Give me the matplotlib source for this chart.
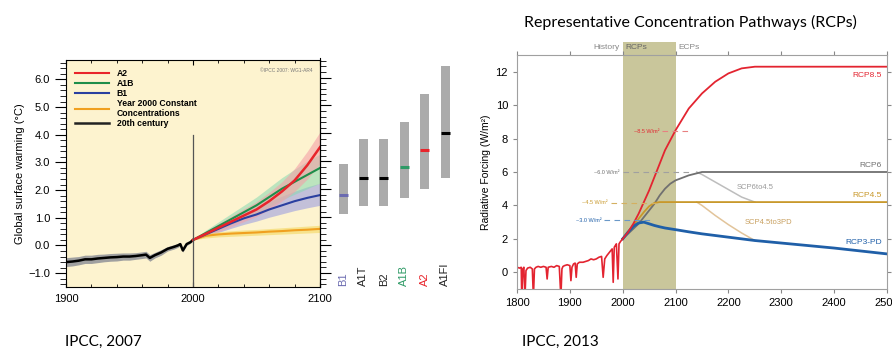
import numpy as np
import matplotlib
matplotlib.use('Agg')
import matplotlib.pyplot as plt
from matplotlib.patches import Rectangle
from matplotlib.lines import Line2D

# ---------------- data: IPCC 2007 (AR4) panel ----------------
hist_years = [1900, 1905, 1910, 1915, 1920, 1925, 1930, 1935, 1940, 1945, 1950, 1955,
              1960, 1963, 1966, 1970, 1975, 1980, 1985, 1988, 1990, 1992, 1995, 1998, 2000]
hist_temp = [-0.6, -0.58, -0.55, -0.5, -0.5, -0.47, -0.45, -0.43, -0.42, -0.4, -0.4, -0.38,
             -0.35, -0.33, -0.45, -0.35, -0.25, -0.12, -0.05, 0.0, 0.05, -0.18, 0.05, 0.12, 0.2]
hist_spread = [0.16, 0.16, 0.15, 0.15, 0.15, 0.15, 0.14, 0.14, 0.14, 0.13, 0.13, 0.12,
               0.12, 0.12, 0.12, 0.1, 0.1, 0.08, 0.08, 0.07, 0.06, 0.06, 0.05, 0.04, 0.03]

proj_years = [2000, 2010, 2020, 2030, 2040, 2050, 2060, 2070, 2080, 2090, 2100]
a2 = [0.2, 0.42, 0.64, 0.86, 1.08, 1.3, 1.6, 1.95, 2.35, 2.9, 3.55]
a2_lo = [0.2, 0.33, 0.5, 0.68, 0.86, 1.05, 1.3, 1.6, 1.95, 2.4, 2.95]
a2_hi = [0.2, 0.5, 0.78, 1.05, 1.32, 1.58, 1.92, 2.3, 2.78, 3.4, 4.1]
a1b = [0.2, 0.45, 0.7, 0.95, 1.2, 1.45, 1.75, 2.05, 2.3, 2.55, 2.8]
a1b_lo = [0.2, 0.35, 0.55, 0.75, 0.95, 1.15, 1.4, 1.65, 1.85, 2.05, 2.25]
a1b_hi = [0.2, 0.55, 0.85, 1.15, 1.45, 1.75, 2.1, 2.45, 2.75, 3.05, 3.3]
b1 = [0.2, 0.4, 0.6, 0.8, 0.98, 1.12, 1.3, 1.45, 1.6, 1.72, 1.82]
b1_lo = [0.2, 0.32, 0.47, 0.62, 0.76, 0.88, 1.02, 1.14, 1.26, 1.36, 1.45]
b1_hi = [0.2, 0.48, 0.73, 0.98, 1.2, 1.38, 1.58, 1.78, 1.96, 2.12, 2.25]
const = [0.2, 0.35, 0.4, 0.43, 0.45, 0.47, 0.5, 0.52, 0.55, 0.57, 0.6]
const_lo = [0.2, 0.27, 0.31, 0.33, 0.35, 0.37, 0.39, 0.41, 0.43, 0.45, 0.47]
const_hi = [0.2, 0.43, 0.49, 0.53, 0.56, 0.58, 0.61, 0.64, 0.67, 0.7, 0.73]

bar_names = ['B1', 'A1T', 'B2', 'A1B', 'A2', 'A1FI']
bar_best = [1.8, 2.4, 2.4, 2.8, 3.4, 4.0]
bar_low = [1.1, 1.4, 1.4, 1.7, 2.0, 2.4]
bar_high = [2.9, 3.8, 3.8, 4.4, 5.4, 6.4]
bar_colors = ['#6a6ab0', 'black', 'black', '#2e9a66', '#e8242b', 'black']

# ---------------- data: IPCC 2013 (RCP) panel ----------------
rf_hist_years = [1800, 1805, 1808, 1809, 1811, 1813, 1815, 1817, 1820, 1825, 1829, 1831, 1833,
                 1836, 1840, 1845, 1850, 1855, 1857, 1859, 1865, 1870, 1875, 1880, 1883, 1885,
                 1887, 1890, 1895, 1900, 1902, 1904, 1907, 1910, 1912, 1914, 1918, 1925, 1930,
                 1935, 1940, 1945, 1950, 1955, 1960, 1963, 1966, 1970, 1975, 1980, 1982, 1984,
                 1986, 1988, 1991, 1993, 1996, 2000]
rf_hist = [0.3, 0.25, 0.3, -1.5, 0.2, 0.3, -1.5, 0.1, 0.25, 0.3, 0.2, -1.5, 0.2,
           0.3, 0.35, 0.3, 0.35, 0.3, -0.4, 0.3, 0.35, 0.3, 0.4, 0.35, -1.5, 0.2,
           0.35, 0.4, 0.45, 0.4, -0.5, 0.3, 0.5, 0.55, -0.3, 0.5, 0.6, 0.6, 0.65,
           0.7, 0.8, 0.75, 0.8, 0.9, 0.95, -0.3, 0.8, 1.0, 1.2, 1.4, -0.6, 1.5,
           1.6, 1.7, -0.4, 1.7, 1.85, 2.0]

rcp_years = [2000, 2010, 2020, 2030, 2040, 2050, 2060, 2070, 2080, 2090, 2100, 2125, 2150,
             2175, 2200, 2225, 2250, 2300, 2400, 2500]
rcp85 = [2.0, 2.4, 2.9, 3.5, 4.2, 4.9, 5.7, 6.5, 7.3, 7.9, 8.5, 9.8, 10.7,
         11.4, 11.9, 12.2, 12.3, 12.3, 12.3, 12.3]
rcp6 = [2.0, 2.3, 2.6, 2.9, 3.3, 3.7, 4.1, 4.6, 5.0, 5.3, 5.5, 5.8, 6.0,
        6.0, 6.0, 6.0, 6.0, 6.0, 6.0, 6.0]
rcp45 = [2.0, 2.4, 2.8, 3.2, 3.6, 3.95, 4.15, 4.2, 4.2, 4.2, 4.2, 4.2, 4.2,
         4.2, 4.2, 4.2, 4.2, 4.2, 4.2, 4.2]
rcp3 = [2.0, 2.4, 2.75, 2.95, 3.0, 2.9, 2.8, 2.72, 2.65, 2.6, 2.55, 2.42, 2.3,
        2.2, 2.1, 2.0, 1.9, 1.75, 1.45, 1.1]

scp6_years = [2140, 2150, 2175, 2200, 2225, 2250]
scp6 = [6.0, 5.85, 5.4, 4.95, 4.5, 4.2]
scp45_years = [2140, 2150, 2175, 2200, 2225, 2250]
scp45 = [4.2, 4.0, 3.4, 2.85, 2.35, 1.9]

# ---------------- figure ----------------
W, H = 892, 352
fig = plt.figure(figsize=(W / 100, H / 100), dpi=100)
plt.rcParams['font.family'] = ['Liberation Sans', 'DejaVu Sans']


def box(x0, y0, x1, y1):
    return [x0 / W, 1 - y1 / H, (x1 - x0) / W, (y1 - y0) / H]


# ---- left: AR4 temperature projections ----
ax1 = fig.add_axes(box(66, 60, 320, 287))
ax1.set_facecolor('#fdf3cf')
ax1.set_xlim(1900, 2100)
ax1.set_ylim(-1.5, 6.7)

ax1.fill_between(hist_years, np.array(hist_temp) - np.array(hist_spread),
                 np.array(hist_temp) + np.array(hist_spread), color='#a0a0a0', lw=0)
ax1.plot(hist_years, hist_temp, color='black', lw=1.8)

ax1.fill_between(proj_years, b1_lo, b1_hi, color='#9d9fe0', alpha=0.6, lw=0)
ax1.fill_between(proj_years, a1b_lo, a1b_hi, color='#88d8b0', alpha=0.55, lw=0)
ax1.fill_between(proj_years, a2_lo, a2_hi, color='#f4a0a8', alpha=0.6, lw=0)
ax1.fill_between(proj_years, const_lo, const_hi, color='#f5dc70', alpha=0.7, lw=0)
ax1.plot(proj_years, const, color='#f0a020', lw=1.5)
ax1.plot(proj_years, b1, color='#2a3fa0', lw=1.5)
ax1.plot(proj_years, a1b, color='#1e8e4a', lw=1.5)
ax1.plot(proj_years, a2, color='#e8242b', lw=1.8)
ax1.plot([2000, 2000], [-1.5, 4.0], color='#555555', lw=0.9)

ax1.set_xticks([1900, 2000, 2100])
ax1.set_xticks(np.arange(1900, 2101, 20), minor=True)
ax1.set_yticks(np.arange(-1, 7, 1))
ax1.set_yticks(np.arange(-1.4, 6.7, 0.2), minor=True)
ax1.set_yticklabels([f'{v:.1f}'.replace('-', '\u2212') for v in np.arange(-1, 7, 1)])
ax1.tick_params(axis='x', which='both', direction='in', top=True, labelsize=8, pad=5)
ax1.tick_params(axis='y', which='major', direction='out', length=8, labelsize=8)
ax1.tick_params(axis='y', which='minor', direction='out', length=4)
ax1.set_ylabel('Global surface warming (°C)', fontsize=8, labelpad=2)
for s in ax1.spines.values():
    s.set_linewidth(0.8)

handles = [Line2D([], [], color='#e8242b', lw=1.5),
           Line2D([], [], color='#1e8e4a', lw=1.5),
           Line2D([], [], color='#2a3fa0', lw=1.5),
           Line2D([], [], color='#f0a020', lw=1.5),
           Line2D([], [], color='#222222', lw=1.8)]
labels = ['A2', 'A1B', 'B1', 'Year 2000 Constant\nConcentrations', '20th century']
ax1.legend(handles, labels, loc='upper left', frameon=False, fontsize=6.2,
           handlelength=4.0, labelspacing=0.12, borderaxespad=0.6, handletextpad=0.9,
           prop={'weight': 'bold', 'size': 6.2})
ax1.text(0.97, 0.955, '©IPCC 2007: WG1-AR4', transform=ax1.transAxes, fontsize=3.5,
         color='#777777', ha='right', va='center')

# ---- left: likely ranges at 2100 ----
ax2 = fig.add_axes(box(320, 58, 460, 287))
ax2.set_xlim(-1.13, 5.73)
ax2.set_ylim(-1.5, 6.7)
ax2.patch.set_alpha(0)
xpos = np.arange(len(bar_names))
ax2.bar(xpos, np.array(bar_high) - np.array(bar_low), bottom=bar_low, width=0.44,
        color='#ababab')
for i, (b, c) in enumerate(zip(bar_best, bar_colors)):
    ax2.plot([i - 0.22, i + 0.22], [b, b], color=c, lw=2.2, solid_capstyle='butt')
    ax2.text(i, -1.45, bar_names[i], rotation=90, ha='center', va='bottom',
             fontsize=8, color=c if c != 'black' else '#222222')
for s in ['top', 'right', 'bottom']:
    ax2.spines[s].set_visible(False)
ax2.spines['left'].set_linewidth(0.8)
ax2.set_xticks([])
ax2.set_yticks(np.arange(-1, 7, 1))
ax2.set_yticks(np.arange(-1.4, 6.7, 0.2), minor=True)
ax2.tick_params(axis='y', which='major', direction='in', length=8, labelleft=False)
ax2.tick_params(axis='y', which='minor', direction='in', length=4)

# ---- right: RCP radiative forcing ----
ax3 = fig.add_axes(box(517, 55, 887, 289))
ax3.set_xlim(1800, 2500)
ax3.set_ylim(-1, 13)
ax3.add_patch(Rectangle((2000, -1), 100, 14.78, color='#c9c69b', lw=0,
                        clip_on=False, zorder=0))

ax3.plot(scp6_years, scp6, color='#bdbdbd', lw=1.1)
ax3.plot(scp45_years, scp45, color='#e2c49a', lw=1.1)
ax3.plot(rcp_years, rcp6, color='#707070', lw=1.3)
ax3.plot(rcp_years, rcp45, color='#c8982a', lw=1.3)
ax3.plot(rcp_years, rcp3, color='#1f5fa8', lw=2.0)
ax3.plot(rf_hist_years, rf_hist, color='#e32430', lw=1.2)
ax3.plot(rcp_years, rcp85, color='#e32430', lw=1.3)

ax3.plot([2075, 2130], [8.45, 8.45], ls=(0, (5, 4)), color='#e88080', lw=0.8)
ax3.plot([2000, 2125], [6.0, 6.0], ls=(0, (5, 4)), color='#a0a0a0', lw=0.8)
ax3.plot([1978, 2070], [4.15, 4.15], ls=(0, (5, 4)), color='#d4b060', lw=0.8)
ax3.plot([1965, 2060], [3.1, 3.1], ls=(0, (5, 4)), color='#6a98c8', lw=0.8)
ax3.text(2045, 8.45, '~8.5 W/m²', color='#e32430', fontsize=4, ha='center', va='center')
ax3.text(1970, 6.0, '~6.0 W/m²', color='#707070', fontsize=4, ha='center', va='center')
ax3.text(1948, 4.15, '~4.5 W/m²', color='#c8982a', fontsize=4, ha='center', va='center')
ax3.text(1935, 3.1, '~3.0 W/m²', color='#1f5fa8', fontsize=4, ha='center', va='center')

ax3.text(2490, 11.75, 'RCP8.5', color='#e32430', fontsize=6, ha='right', va='center')
ax3.text(2490, 6.4, 'RCP6', color='#707070', fontsize=6, ha='right', va='center')
ax3.text(2490, 4.6, 'RCP4.5', color='#c8982a', fontsize=6, ha='right', va='center')
ax3.text(2490, 1.8, 'RCP3-PD', color='#1f5fa8', fontsize=6, ha='right', va='center')
ax3.text(2215, 5.1, 'SCP6to4.5', color='#9a9a9a', fontsize=5.5, ha='left', va='center')
ax3.text(2230, 3.0, 'SCP4.5to3PD', color='#c8a060', fontsize=5.5, ha='left', va='center')

ax3.text(1995, 13.42, 'History', color='#888888', fontsize=6, ha='right', va='center')
ax3.text(2005, 13.42, 'RCPs', color='#666666', fontsize=6, ha='left', va='center')
ax3.text(2105, 13.42, 'ECPs', color='#888888', fontsize=6, ha='left', va='center')

ax3.set_xticks(np.arange(1800, 2501, 100))
ax3.set_yticks(np.arange(0, 13, 2))
ax3.tick_params(axis='both', labelsize=8, color='#888888', length=3)
ax3.tick_params(axis='x', top=True)
ax3.tick_params(axis='y', right=True)
ax3.set_ylabel('Radiative Forcing (W/m²)', fontsize=7.5, labelpad=3)
for s in ax3.spines.values():
    s.set_color('#a0a0a0')
    s.set_linewidth(0.8)

# ---- page text ----
fig.text(690 / W, 1 - 22 / H, 'Representative Concentration Pathways (RCPs)',
         fontsize=11.5, family=['Lato', 'DejaVu Sans'], ha='center', va='center')
fig.text(65 / W, 1 - 342 / H, 'IPCC, 2007', fontsize=11,
         family=['Lato', 'DejaVu Sans'], ha='left', va='center')
fig.text(522 / W, 1 - 342 / H, 'IPCC, 2013', fontsize=11,
         family=['Lato', 'DejaVu Sans'], ha='left', va='center')

fig.savefig('out.png', dpi=100)
